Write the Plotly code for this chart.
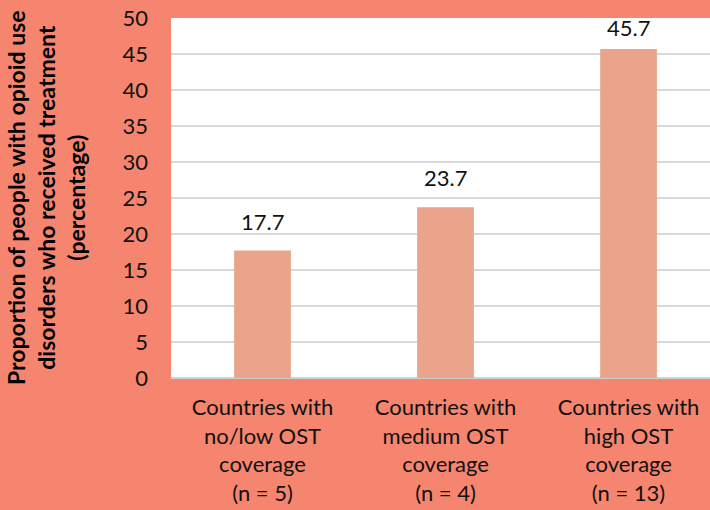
import plotly.graph_objects as go

# ── data ──
categories = [
    "Countries with<br>no/low OST<br>coverage<br>(n = 5)",
    "Countries with<br>medium OST<br>coverage<br>(n = 4)",
    "Countries with<br>high OST<br>coverage<br>(n = 13)",
]
treated_pct = [17.7, 23.7, 45.7]
y_ticks = [0, 5, 10, 15, 20, 25, 30, 35, 40, 45, 50]
y_title = "Proportion of people with opioid use<br>disorders who received treatment<br>(percentage)"

PAPER = "#F5856E"
BAR = "#E9A48B"
FONT = "Lato, 'Open Sans', sans-serif"
Y_MAX = 50

fig = go.Figure(go.Bar(
    x=categories, y=treated_pct,
    marker=dict(color=BAR, line=dict(width=0)),
    width=0.31,
))

# value labels sit well above the bars; the tallest one gets squeezed
# down so it stays inside the plot area (as Excel does)
for cat, v in zip(categories, treated_pct):
    shift = 14 if v < Y_MAX - 8 else 6
    fig.add_annotation(x=cat, y=v, text=f"{v:.1f}", showarrow=False,
                       yanchor="bottom", yshift=shift,
                       font=dict(size=22, color="#111111", family=FONT))

fig.add_annotation(
    text=y_title, textangle=-90, showarrow=False,
    xref="paper", yref="paper", x=(46 - 171) / 539, y=0.5,
    xanchor="center", yanchor="middle",
    font=dict(size=23, color="#000000", family=FONT, weight="bold"),
)

fig.update_layout(
    width=710, height=510,
    paper_bgcolor=PAPER, plot_bgcolor="white",
    margin=dict(l=171, r=0, t=18, b=132),
    font=dict(family=FONT, size=22, color="#111111"),
    showlegend=False,
    xaxis=dict(range=[-0.5, 2.445], showgrid=False, ticks="",
               tickfont=dict(size=22), ticklabelstandoff=14, fixedrange=True),
    yaxis=dict(range=[0, Y_MAX], tickvals=y_ticks, showgrid=True,
               gridcolor="#D9D9D9", gridwidth=1.5, zeroline=True,
               zerolinecolor="#D0D0D0", zerolinewidth=1.5,
               tickfont=dict(size=22), ticklabelstandoff=22),
)

fig.write_html("out.html", config={"displayModeBar": False},
               post_script="document.body.style.margin='0';")
